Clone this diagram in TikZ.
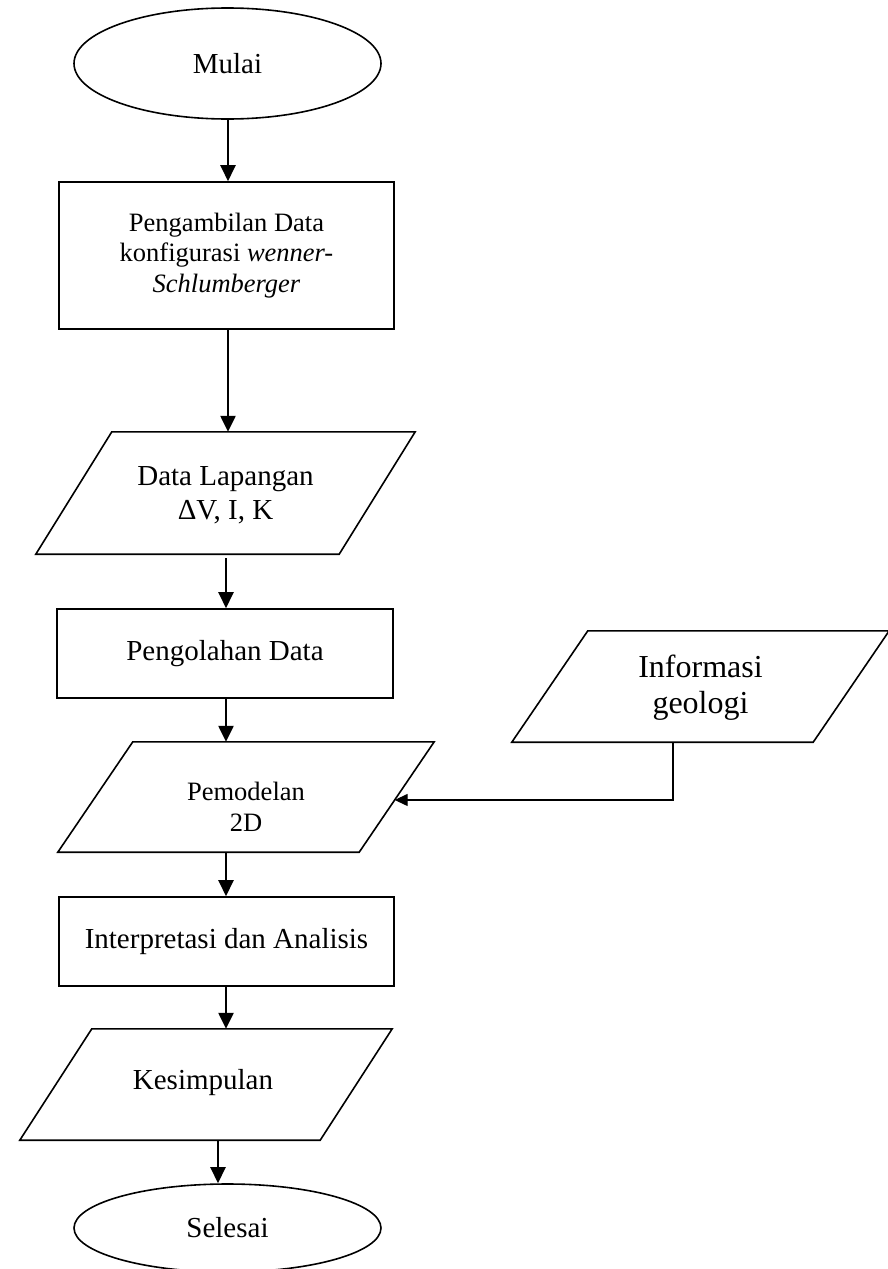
\documentclass[tikz,border=0pt]{standalone}
\usepackage{fontspec}
\setmainfont{Liberation Serif}
\usetikzlibrary{shapes.geometric,arrows.meta,calc}
\begin{document}
\begin{tikzpicture}[x=1pt,y=-1pt,
  box/.style={draw,line width=1.6pt,rectangle,inner sep=0pt,align=center},
  term/.style={draw,line width=1.6pt,ellipse,inner sep=0pt},
  pbox/.style={rectangle,inner sep=0pt,draw=none},
  ptext/.style={align=center,inner sep=0pt},
  arr/.style={line width=2.4pt,-{Triangle[width=15pt,length=16pt]}},
  sidearr/.style={line width=1.3pt,-{Triangle[width=12pt,length=13pt]}},
  outline/.style={line width=1.6pt,line join=miter},
  fA/.style={font={\fontsize{29}{34}\selectfont}},
  fB/.style={font={\fontsize{26.5}{30.5}\selectfont}},
  fC/.style={font={\fontsize{26.5}{31}\selectfont}},
  fD/.style={font={\fontsize{32}{36}\selectfont}}
]
\useasboundingbox (0,0) rectangle (887,1269);

% terminals and boxes
\node[term,fA,minimum width=307pt,minimum height=111pt] (start) at (227.5,63.5) {Mulai};
\node[box,fB,minimum width=335pt,minimum height=147pt] (b1) at (226.5,255.5)
  {Pengambilan Data\\konfigurasi \textit{wenner-}\\\textit{Schlumberger}};
\node[box,fA,minimum width=336pt,minimum height=89pt] (b2) at (225,653.5) {Pengolahan Data};
\node[box,fA,minimum width=335pt,minimum height=89pt] (b3) at (226.5,941.5) {Interpretasi dan Analisis};
\node[term,fA,minimum width=307pt,minimum height=88pt] (stop) at (227.5,1228) {Selesai};

% parallelogram frames
\node[pbox,minimum width=379pt,minimum height=122pt] (p1) at (225.5,493) {};
\node[pbox,minimum width=376pt,minimum height=110pt] (p2) at (246,797) {};
\node[pbox,minimum width=377pt,minimum height=111pt] (p3) at (700.5,686.5) {};
\node[pbox,minimum width=372pt,minimum height=111pt] (p4) at (206,1084.5) {};

\draw[outline] ([xshift=76pt]p1.north west) -- (p1.north east) -- ([xshift=-76pt]p1.south east) -- (p1.south west) -- cycle;
\draw[outline] ([xshift=75pt]p2.north west) -- (p2.north east) -- ([xshift=-75pt]p2.south east) -- (p2.south west) -- cycle;
\draw[outline] ([xshift=76pt]p3.north west) -- (p3.north east) -- ([xshift=-76pt]p3.south east) -- (p3.south west) -- cycle;
\draw[outline] ([xshift=72pt]p4.north west) -- (p4.north east) -- ([xshift=-72pt]p4.south east) -- (p4.south west) -- cycle;

% texts of parallelograms
\node[ptext,fA] (p1t) at (225.5,495) {Data Lapangan\\ΔV, I, K};
\node[ptext,fC] (p2t) at (246,807) {Pemodelan\\2D};
\node[ptext,fD] (p3t) at (700.5,687.5) {Informasi\\geologi};
\node[ptext,fA] (p4t) at (203,1083) {Kesimpulan};

% arrow x positions
\coordinate (xa) at (228,0);
\coordinate (xb) at (226,0);
\coordinate (xc) at (218,0);
\coordinate (xs) at (673,0);
\coordinate (p2r) at ($(p2.north east)!0.527!([xshift=-75pt]p2.south east)$);

\draw[arr] (start.south -| xa) -- (b1.north -| xa);
\draw[arr] (b1.south -| xa) -- (p1.north -| xa);
\draw[arr] ([yshift=-4pt]p1.south -| xb) -- (b2.north -| xb);
\draw[arr] (b2.south -| xb) -- (p2.north -| xb);
\draw[arr] (p2.south -| xb) -- (b3.north -| xb);
\draw[arr] (b3.south -| xb) -- (p4.north -| xb);
\draw[arr] (p4.south -| xc) -- (stop.north -| xc);
\draw[sidearr] (p3.south -| xs) |- (p2r);
\end{tikzpicture}
\end{document}
